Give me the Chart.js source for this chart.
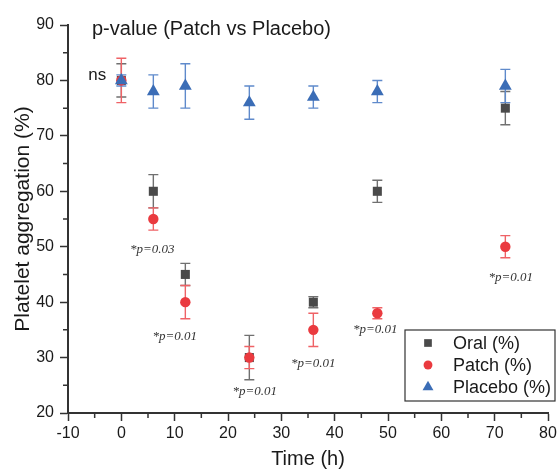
<!DOCTYPE html>
<html>
<head>
<meta charset="utf-8">
<script src="https://cdn.jsdelivr.net/npm/chart.js@4.4.1/dist/chart.umd.min.js"></script>
<style>
  html, body { margin: 0; padding: 0; background: #fff; }
</style>
</head>
<body>
<canvas id="chart" width="560" height="471"></canvas>
<script>
// data
const times = [0, 6, 12, 24, 36, 48, 72];

const oralValues = [80, 60, 45, 30, 40, 60, 75];
const oralErrors = [3, 3, 2, 4, 1, 2, 3];

const patchValues = [80, 55, 40, 30, 35, 38, 50];
const patchErrors = [4, 2, 3, 2, 3, 1, 2];

const placeboValues = [80, 78, 79, 76, 77, 78, 79];
const placeboErrors = [1, 3, 4, 3, 2, 2, 3];

const xTicks = [-10, 0, 10, 20, 30, 40, 50, 60, 70, 80];
const yTicks = [20, 30, 40, 50, 60, 70, 80, 90];

// p-value labels (x in h, y in %)
const pLabels = ['*p=0.03', '*p=0.01', '*p=0.01', '*p=0.01', '*p=0.01', '*p=0.01'];
const pLabelX = [5.8, 10, 25, 36, 47.6, 73];
const pLabelY = [49.4, 33.7, 23.9, 29.0, 35.0, 44.5];

const FONT = "'Liberation Sans', Arial, sans-serif";
const INK = '#1a1a1a';
const AXIS = '#333333';

function points(values) {
    return times.map((t, i) => ({ x: t, y: values[i] }));
}

const series = [
    { label: 'Oral (%)', values: oralValues, errors: oralErrors, color: '#4a4a4a', errColor: '#707070', style: 'rect', radius: 6.4, order: 3 },
    { label: 'Patch (%)', values: patchValues, errors: patchErrors, color: '#ea3a3f', errColor: '#ef6266', style: 'circle', radius: 5.2, order: 2 },
    { label: 'Placebo (%)', values: placeboValues, errors: placeboErrors, color: '#3b6db6', errColor: '#5f8acb', style: 'triangle', radius: 7.4, order: 1 },
];

const errorBars = {
    id: 'errorBars',
    beforeDatasetsDraw(chart) {
        const ctx = chart.ctx;
        const xs = chart.scales.x, ys = chart.scales.y;
        ctx.save();
        chart.data.datasets.forEach(ds => {
            ctx.strokeStyle = ds.errColor;
            ctx.lineWidth = 1.4;
            ds.data.forEach((p, i) => {
                const x = xs.getPixelForValue(p.x);
                const top = ys.getPixelForValue(p.y + ds.errors[i]);
                const bot = ys.getPixelForValue(p.y - ds.errors[i]);
                ctx.beginPath();
                ctx.moveTo(x, top); ctx.lineTo(x, bot);
                ctx.moveTo(x - 5, top); ctx.lineTo(x + 5, top);
                ctx.moveTo(x - 5, bot); ctx.lineTo(x + 5, bot);
                ctx.stroke();
            });
        });
        ctx.restore();
    }
};

const minorTicks = {
    id: 'minorTicks',
    afterDraw(chart) {
        const ctx = chart.ctx;
        const xs = chart.scales.x, ys = chart.scales.y;
        const area = chart.chartArea;
        ctx.save();
        ctx.strokeStyle = AXIS;
        ctx.lineWidth = 1.5;
        ctx.beginPath();
        xTicks.slice(0, -1).forEach(v => {
            const x = xs.getPixelForValue(v + 5);
            ctx.moveTo(x, area.bottom); ctx.lineTo(x, area.bottom + 5);
        });
        yTicks.slice(0, -1).forEach(v => {
            const y = ys.getPixelForValue(v + 5);
            ctx.moveTo(area.left, y); ctx.lineTo(area.left - 5, y);
        });
        ctx.stroke();
        ctx.restore();
    }
};

const annotations = {
    id: 'annotations',
    afterDraw(chart) {
        const ctx = chart.ctx;
        const xs = chart.scales.x, ys = chart.scales.y;
        const area = chart.chartArea;
        ctx.save();
        ctx.fillStyle = INK;
        ctx.textBaseline = 'middle';

        ctx.textAlign = 'left';
        ctx.font = '20px ' + FONT;
        ctx.fillText('p-value (Patch vs Placebo)', area.left + 24, area.top + 4);

        ctx.textAlign = 'center';
        ctx.font = '17px ' + FONT;
        ctx.fillText('ns', xs.getPixelForValue(-4.5), ys.getPixelForValue(80.9));

        ctx.font = "italic 13px 'Liberation Serif', 'Times New Roman', serif";
        ctx.fillStyle = '#333';
        pLabels.forEach((txt, i) => {
            ctx.fillText(txt, xs.getPixelForValue(pLabelX[i]), ys.getPixelForValue(pLabelY[i]));
        });
        ctx.restore();
    }
};

const boxLegend = {
    id: 'boxLegend',
    afterDraw(chart) {
        const ctx = chart.ctx;
        const left = 405, top = 330, w = 150, h = 71;
        ctx.save();
        ctx.strokeStyle = AXIS;
        ctx.lineWidth = 1.2;
        ctx.strokeRect(left, top, w, h);
        ctx.font = '18px ' + FONT;
        ctx.textBaseline = 'middle';
        ctx.textAlign = 'left';
        chart.data.datasets.forEach((ds, i) => {
            const y = top + 13 + i * 22;
            ctx.fillStyle = ds.backgroundColor;
            Chart.helpers.drawPoint(ctx, { pointStyle: ds.pointStyle, radius: ds.pointRadius * 0.85, borderWidth: 0 }, left + 23, y);
            ctx.fillStyle = INK;
            ctx.fillText(ds.label, left + 48, y + 1);
        });
        ctx.restore();
    }
};

new Chart(document.getElementById('chart'), {
    type: 'scatter',
    data: {
        datasets: series.map(s => ({
            label: s.label,
            data: points(s.values),
            errors: s.errors,
            errColor: s.errColor,
            backgroundColor: s.color,
            borderColor: s.color,
            borderWidth: 0,
            pointStyle: s.style,
            pointRadius: s.radius,
            pointHoverRadius: s.radius,
            order: s.order,
        })),
    },
    options: {
        responsive: false,
        animation: false,
        layout: { padding: { top: 25, right: 12, left: 0, bottom: 0 } },
        plugins: {
            legend: { display: false },
            tooltip: { enabled: false },
        },
        scales: {
            x: {
                type: 'linear',
                min: -10,
                max: 80,
                afterFit: scale => { scale.height = 58; },
                afterBuildTicks: scale => { scale.ticks = xTicks.map(v => ({ value: v })); },
                grid: { drawOnChartArea: false, tickLength: 8, tickColor: AXIS, tickWidth: 1.5 },
                border: { display: true, color: AXIS, width: 2 },
                ticks: { color: INK, font: { family: FONT, size: 16 }, padding: 3, maxRotation: 0 },
                title: { display: true, text: 'Time (h)', color: INK, font: { family: FONT, size: 20 }, padding: { top: 0, bottom: 0 } },
            },
            y: {
                type: 'linear',
                min: 20,
                max: 90,
                afterFit: scale => { scale.width = 68; },
                afterBuildTicks: scale => { scale.ticks = yTicks.map(v => ({ value: v })); },
                grid: { drawOnChartArea: false, tickLength: 8, tickColor: AXIS, tickWidth: 1.5 },
                border: { display: true, color: AXIS, width: 2 },
                ticks: { color: INK, font: { family: FONT, size: 16 }, padding: 6 },
                title: { display: true, text: 'Platelet aggregation (%)', color: INK, font: { family: FONT, size: 21 }, padding: { top: 11, bottom: 0 } },
            },
        },
    },
    plugins: [errorBars, minorTicks, annotations, boxLegend],
});
</script>
</body>
</html>
